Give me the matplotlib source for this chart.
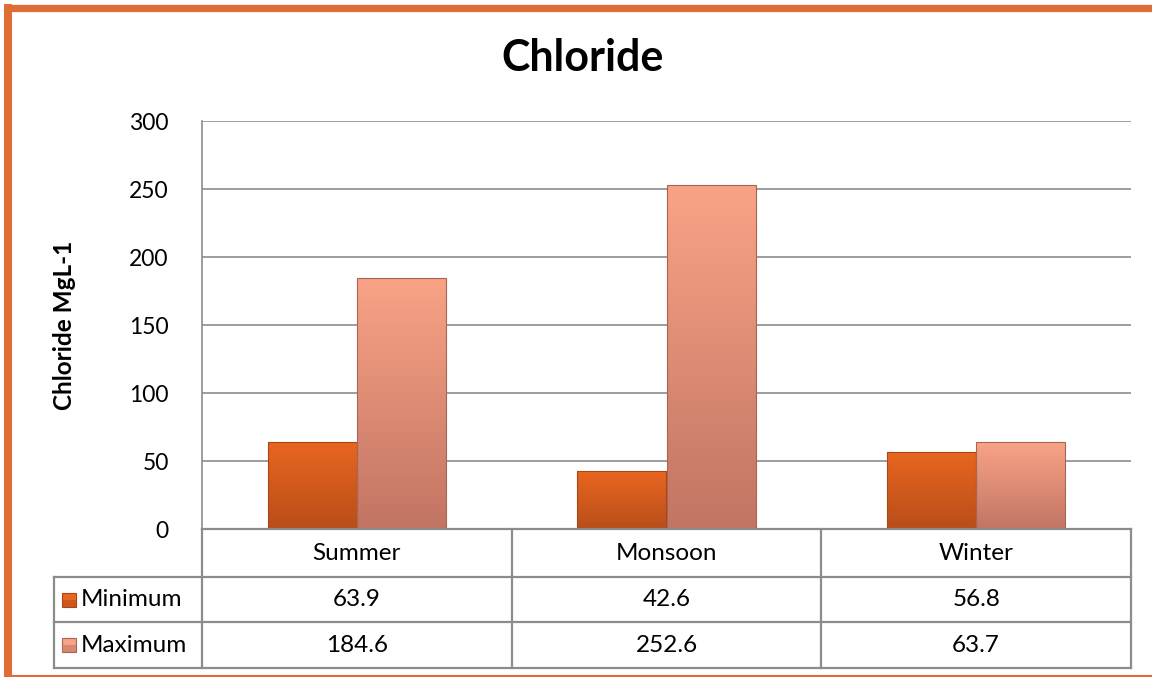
import matplotlib
matplotlib.use("Agg")
import matplotlib.pyplot as plt
import numpy as np
from matplotlib.patches import Rectangle
from matplotlib.lines import Line2D

plt.rcParams['font.family'] = ['Lato', 'DejaVu Sans']

categories = ["Summer", "Monsoon", "Winter"]
series_names = ["Minimum", "Maximum"]
minimum = [63.9, 42.6, 56.8]
maximum = [184.6, 252.6, 63.7]
yticks = [0, 50, 100, 150, 200, 250, 300]

colors_top = ["#E8661F", "#F9A386"]
colors_bot = ["#B94E19", "#C27563"]
edge_cols = ["#A8461A", "#A86454"]

W, H = 1152, 677
fig = plt.figure(figsize=(W / 100, H / 100), dpi=100)

def fx(px):
    return px / W

def fy(py):
    return 1 - py / H

ax_l, ax_r, ax_t, ax_b = 202, 1131, 121, 529
ax = fig.add_axes([fx(ax_l), fy(ax_b), fx(ax_r - ax_l), (ax_b - ax_t) / H])

x = np.arange(len(categories))
bw = 0.288
series = [minimum, maximum]
offsets = [-bw / 2, bw / 2]

def gradient_bar(ax, xc, h, width, ctop, cbot, edge):
    bars = ax.bar(xc, h, width, color="none", edgecolor=edge, linewidth=0.8, zorder=3)
    for b in bars:
        x0 = b.get_x()
        y0 = b.get_y()
        hh = b.get_height()
        ww = b.get_width()
        c1 = np.array(matplotlib.colors.to_rgb(ctop))
        c2 = np.array(matplotlib.colors.to_rgb(cbot))
        t = np.linspace(0, 1, 64)[:, None]
        img = (c1 * (1 - t) + c2 * t)[:, None, :]
        im = ax.imshow(img, extent=[x0, x0 + ww, y0, y0 + hh], aspect="auto",
                       zorder=2, interpolation="bilinear", origin="upper")
        clip = Rectangle((x0, y0), ww, hh, transform=ax.transData)
        im.set_clip_path(clip)
    return bars

for i, vals in enumerate(series):
    gradient_bar(ax, x + offsets[i], vals, bw, colors_top[i], colors_bot[i], edge_cols[i])

ax.set_xlim(-0.5, len(categories) - 0.5)
ax.set_ylim(0, 300)
ax.set_yticks(yticks)
ax.set_yticklabels([str(v) for v in yticks], fontsize=16.5)
ax.tick_params(axis="y", length=0, pad=24)
ax.set_xticks([])
ax.grid(axis="y", color="#8C8C8C", linewidth=1.2, zorder=0)
ax.set_axisbelow(True)
for s in ["top", "right"]:
    ax.spines[s].set_visible(False)
for s in ["left", "bottom"]:
    ax.spines[s].set_color("#8C8C8C")
    ax.spines[s].set_linewidth(1.2)
ax.set_ylabel("Chloride MgL-1", fontsize=17.5, fontweight="bold", labelpad=38)

fig.text(fx(583), fy(58), "Chloride", fontsize=31, fontweight="bold",
         ha="center", va="center")

# Data table
tl, tt, tb = 54, 529, 668
row_edges = [529, 577, 622, 668]
tab = fig.add_axes([fx(tl), fy(tb), fx(ax_r - tl), (tb - tt) / H])
unit = (ax_r - ax_l) / len(categories)
left_x = -0.5 - (ax_l - tl) / unit
tab.set_xlim(left_x, len(categories) - 0.5)
tab.set_ylim(tb, tt)
tab.axis("off")
lc = "#8C8C8C"
lw = 1.6
tab.plot([-0.5, len(categories) - 0.5], [row_edges[0]] * 2, color=lc, lw=lw, clip_on=False)
for ry in row_edges[1:]:
    tab.plot([left_x, len(categories) - 0.5], [ry] * 2, color=lc, lw=lw, clip_on=False)
tab.plot([left_x, left_x], [row_edges[1], row_edges[-1]], color=lc, lw=lw, clip_on=False)
for k in range(len(categories) + 1):
    xv = -0.5 + k
    tab.plot([xv, xv], [row_edges[0], row_edges[-1]], color=lc, lw=lw, clip_on=False)

fs = 17.5
for k, c in enumerate(categories):
    tab.text(k, (row_edges[0] + row_edges[1]) / 2, c, ha="center", va="center", fontsize=fs)
for i, vals in enumerate(series):
    yc = (row_edges[i + 1] + row_edges[i + 2]) / 2
    for k, v in enumerate(vals):
        tab.text(k, yc, f"{v}", ha="center", va="center", fontsize=fs)
    sq = 14 / unit
    kx = left_x + 8 / unit
    tab.add_patch(Rectangle((kx, yc - 7), sq, 14, facecolor=colors_top[i],
                            edgecolor=edge_cols[i], lw=0.8, clip_on=False))
    tab.add_patch(Rectangle((kx, yc), sq, 7, facecolor=colors_bot[i],
                            edgecolor="none", alpha=0.6, clip_on=False))
    tab.text(kx + sq + 5 / unit, yc, series_names[i], ha="left", va="center", fontsize=fs)

# Orange frame
oc = "#E06C36"
fig.add_artist(Line2D([fx(4), fx(W + 5)], [fy(7.5), fy(7.5)], color=oc, lw=5.2,
                      transform=fig.transFigure, solid_capstyle="butt"))
fig.add_artist(Line2D([fx(8), fx(8)], [fy(4), fy(H + 5)], color=oc, lw=5.8,
                      transform=fig.transFigure, solid_capstyle="butt"))
fig.add_artist(Line2D([fx(4), fx(W)], [fy(676), fy(676)], color=oc, lw=1.5,
                      transform=fig.transFigure, solid_capstyle="butt"))

fig.savefig("out.png", dpi=100)
